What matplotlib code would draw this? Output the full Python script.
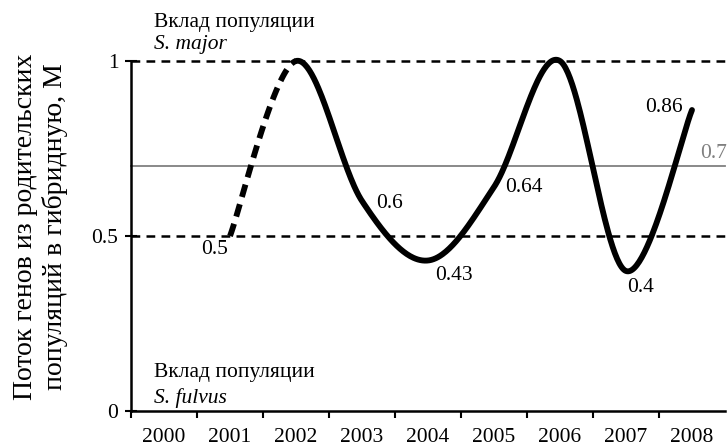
import numpy as np
import matplotlib
matplotlib.use('Agg')
import matplotlib.pyplot as plt

plt.rcParams['font.family'] = ['Liberation Serif', 'DejaVu Serif']

years = ['2000', '2001', '2002', '2003', '2004', '2005', '2006', '2007', '2008']
flow = [np.nan, 0.5, 1.0, 0.6, 0.43, 0.64, 1.0, 0.4, 0.86]
labelled = {'2001': 0.5, '2003': 0.6, '2004': 0.43, '2005': 0.64, '2007': 0.4, '2008': 0.86}
upper, lower, mean_level = 1.0, 0.5, 0.7


def smooth(xs, ys, n=60):
    # Catmull-Rom style smoothing, like the spreadsheet "smoothed line"
    px = np.concatenate([[xs[0]], xs, [xs[-1]]])
    py = np.concatenate([[ys[0]], ys, [ys[-1]]])
    segs = []
    for i in range(1, len(px) - 2):
        p0, p1, p2, p3 = (np.array([px[j], py[j]]) for j in range(i - 1, i + 3))
        c1 = p1 + (p2 - p0) / 6
        c2 = p2 - (p3 - p1) / 6
        t = np.linspace(0, 1, n)[:, None]
        b = ((1 - t) ** 3) * p1 + 3 * ((1 - t) ** 2) * t * c1 + 3 * (1 - t) * t ** 2 * c2 + t ** 3 * p2
        segs.append(b)
    return segs


x = np.arange(len(years))
y = np.array(flow)
ok = ~np.isnan(y)
segs = smooth(x[ok].astype(float), y[ok])

fs = 15.5

fig = plt.figure(figsize=(7.27, 4.46), dpi=100)
ax = fig.add_axes([131 / 727, 1 - 411 / 446, 594 / 727, 350 / 446])

# reference levels
ax.axhline(upper, color='black', lw=1.8, ls=(0, (3.5, 2.5)), clip_on=False, zorder=2)
ax.axhline(lower, color='black', lw=1.8, ls=(0, (3.5, 2.5)), clip_on=False, zorder=2)
ax.axhline(mean_level, color='#808080', lw=1.3, clip_on=False, zorder=2)

# first segment dashed, the rest solid
first = segs[0]
ax.plot(first[:, 0], first[:, 1], color='black', lw=4.2, ls=(0, (2.2, 1.3)),
        solid_capstyle='butt', clip_on=False, zorder=3)
rest = np.vstack(segs[1:])
ax.plot(rest[:, 0], rest[:, 1], color='black', lw=4.2, solid_capstyle='round',
        solid_joinstyle='round', clip_on=False, zorder=3)

offsets = {'2001': (-15, -14), '2003': (27, -2), '2004': (26, -15),
           '2005': (30, -1), '2007': (15, -16), '2008': (-28, 3)}
for yr, val in labelled.items():
    ax.annotate(f'{val:g}', (years.index(yr), val), xytext=offsets[yr],
                textcoords='offset pixels', ha='center', va='center', fontsize=fs)
ax.annotate(f'{mean_level:g}', (8.5, mean_level), xytext=(2, 12),
            textcoords='offset pixels', ha='right', va='center', fontsize=fs,
            color='#808080', annotation_clip=False)

ax.set_xlim(-0.5, 8.5)
ax.set_ylim(0, 1)
ax.set_yticks([0, 0.5, 1])
ax.set_yticklabels(['0', '0.5', '1'], fontsize=fs)
ax.set_xticks(np.arange(-0.5, 8.5, 1))
ax.set_xticklabels([])
ax.set_xticks(x, minor=True)
ax.set_xticklabels(years, minor=True, fontsize=fs)
ax.tick_params(axis='x', which='minor', length=0, pad=12)
ax.tick_params(axis='x', which='major', direction='out', length=5, width=1.5)
ax.tick_params(axis='y', direction='inout', length=8, width=1.5, pad=5)
for side in ['top', 'right']:
    ax.spines[side].set_visible(False)
for side in ['left', 'bottom']:
    ax.spines[side].set_linewidth(1.8)

fig.text(154 / 727, 1 - 22 / 446, 'Вклад популяции', fontsize=fs, va='center')
fig.text(154 / 727, 1 - 45 / 446, 'S. major', fontsize=fs, va='center', style='italic')
fig.text(154 / 727, 1 - 372 / 446, 'Вклад популяции', fontsize=fs, va='center')
fig.text(154 / 727, 1 - 398 / 446, 'S. fulvus', fontsize=fs, va='center', style='italic')

fig.text(26 / 727, 1 - 227 / 446, 'Поток генов из родительских', rotation=90,
         ha='center', va='center', fontsize=20)
fig.text(55 / 727, 1 - 227 / 446, 'популяций в гибридную, М', rotation=90,
         ha='center', va='center', fontsize=20)

fig.savefig('out.png', dpi=100)
